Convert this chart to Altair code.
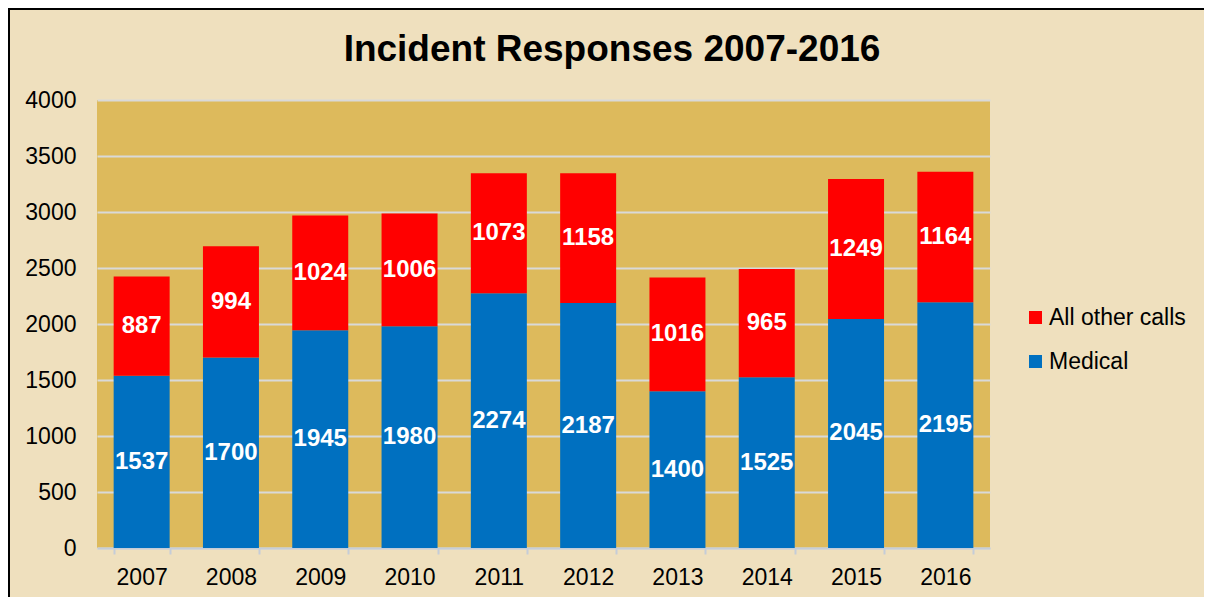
import altair as alt
import pandas as pd

years = ["2007", "2008", "2009", "2010", "2011", "2012", "2013", "2014", "2015", "2016"]
medical = [1537, 1700, 1945, 1980, 2274, 2187, 1400, 1525, 2045, 2195]
other = [887, 994, 1024, 1006, 1073, 1158, 1016, 965, 1249, 1164]
series = ["All other calls", "Medical"]
colors = ["#FF0000", "#0070C0"]
y_ticks = [0, 500, 1000, 1500, 2000, 2500, 3000, 3500, 4000]
title_text = "Incident Responses 2007-2016"

rows = []
for yr, m, o in zip(years, medical, other):
    rows.append({"year": yr, "series": "Medical", "value": m, "order": 0})
    rows.append({"year": yr, "series": "All other calls", "value": o, "order": 1})
df = pd.DataFrame(rows)

FONT = "Liberation Sans"

base = alt.Chart(df).transform_stack(
    stack="value", groupby=["year"], as_=["y0", "y1"],
    sort=[alt.SortField("order", order="ascending")]
).transform_calculate(mid="(datum.y0 + datum.y1) / 2")

x_enc = alt.X(
    "year:N", title=None, sort=years,
    scale=alt.Scale(paddingInner=0.373, paddingOuter=0.1865),
    axis=alt.Axis(labelFont=FONT, labelFontSize=23, labelColor="black", labelAngle=0,
                  domainColor="#C5CDD8", domainWidth=2, tickColor="#C5CDD8", tickWidth=2,
                  tickSize=6, tickBand="extent", labelPadding=12, grid=False),
)

bars = base.mark_bar().encode(
    x=x_enc,
    y=alt.Y("y0:Q", title=None, scale=alt.Scale(domain=[0, 4000], nice=False),
            axis=alt.Axis(values=y_ticks, format="d", labelFont=FONT, labelFontSize=23,
                          labelColor="black", domain=False, ticks=False, labelPadding=21,
                          grid=True, gridColor="#D9D9D9", gridWidth=2)),
    y2="y1:Q",
    color=alt.Color("series:N", scale=alt.Scale(domain=series, range=colors),
                    legend=alt.Legend(title=None, orient="none", legendX=927, legendY=206,
                                      symbolType="square", symbolSize=169, symbolStrokeWidth=0,
                                      labelFont=FONT, labelFontSize=23, labelColor="black",
                                      rowPadding=20, labelOffset=2)),
    order=alt.Order("order:Q"),
)

labels = base.mark_text(color="white", fontWeight="bold", fontSize=24, font=FONT,
                        baseline="middle").encode(
    x=alt.X("year:N", sort=years),
    y=alt.Y("mid:Q"),
    text=alt.Text("value:Q", format="d"),
)

deco_df = pd.DataFrame({"t": [title_text]})
title_mark = alt.Chart(deco_df).mark_text(
    font=FONT, fontSize=37, fontWeight="bold", color="black", align="center",
    baseline="alphabetic").encode(x=alt.value(515), y=alt.value(-39), text="t:N")
left_border = alt.Chart(deco_df).mark_rule(color="black", strokeWidth=2).encode(
    x=alt.value(-88), y=alt.value(-92), y2=alt.value(497))
top_border = alt.Chart(deco_df).mark_rule(color="black", strokeWidth=2).encode(
    x=alt.value(-89), x2=alt.value(1107), y=alt.value(-91))

chart = alt.layer(bars, labels, title_mark, left_border, top_border).properties(
    width=893, height=448,
    autosize=alt.AutoSizeParams(type="none"),
    padding={"left": 89, "top": 92, "right": 214, "bottom": 49},
    background="#EFE0BE",
).configure_view(stroke=None, fill="#DDBA5C")

chart.save("out.html", embed_options={"renderer": "svg", "actions": False})
